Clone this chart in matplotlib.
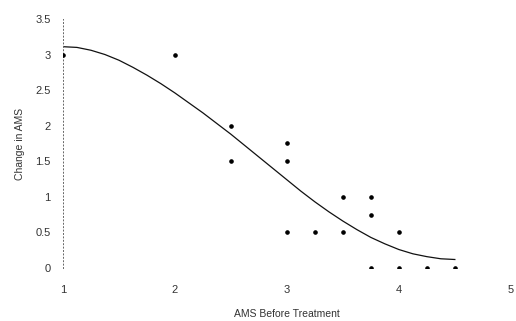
import matplotlib.pyplot as plt

# observed scores
ams_before = [1, 2, 2.5, 2.5, 3, 3, 3, 3.25, 3.5, 3.5, 3.75, 3.75, 3.75, 4, 4, 4.25, 4.5]
ams_change = [3, 3, 2, 1.5, 1.75, 1.5, 0.5, 0.5, 1, 0.5, 1, 0.75, 0, 0.5, 0, 0, 0]

# trend line
trend_x = [1.0, 1.125, 1.25, 1.375, 1.5, 1.625, 1.75, 1.875, 2.0, 2.125, 2.25,
           2.375, 2.5, 2.625, 2.75, 2.875, 3.0, 3.125, 3.25, 3.375, 3.5, 3.625,
           3.75, 3.875, 4.0, 4.125, 4.25, 4.375, 4.5]
trend_y = [3.11, 3.10, 3.06, 3.00, 2.92, 2.82, 2.71, 2.59, 2.46, 2.32, 2.18,
           2.03, 1.88, 1.72, 1.56, 1.40, 1.24, 1.08, 0.93, 0.79, 0.66, 0.54,
           0.43, 0.34, 0.26, 0.20, 0.16, 0.13, 0.12]

x_ticks = [1, 2, 3, 4, 5]
y_ticks = [0, 0.5, 1, 1.5, 2, 2.5, 3, 3.5]
y_labels = ["0", "0.5", "1", "1.5", "2", "2.5", "3", "3.5"]

plt.rcParams["font.family"] = ["Liberation Sans", "DejaVu Sans"]
text_color = "#333333"

fig = plt.figure(figsize=(5.16, 3.21), dpi=100)
ax = fig.add_axes([0.122, 0.165, 0.868, 0.776])

ax.plot(trend_x, trend_y, color="#111111", lw=0.9, zorder=2)
ax.plot(ams_before, ams_change, "o", color="black", ms=2.3, zorder=3)

ax.set_xlim(1, 5)
ax.set_ylim(0, 3.5)
ax.set_xticks(x_ticks)
ax.set_yticks(y_ticks)
ax.set_yticklabels(y_labels)

for side in ["top", "right", "bottom"]:
    ax.spines[side].set_visible(False)
ax.spines["left"].set_linestyle((0, (1, 2.5)))
ax.spines["left"].set_linewidth(0.7)
ax.spines["left"].set_color("#666666")

ax.tick_params(axis="x", length=0, pad=12, labelsize=8, labelcolor=text_color)
ax.tick_params(axis="y", length=0, pad=9, labelsize=8, labelcolor=text_color)

ax.set_xlabel("AMS Before Treatment", fontsize=7.5, color=text_color, labelpad=10)
ax.set_ylabel("Change in AMS", fontsize=7.5, color=text_color, labelpad=7)

fig.savefig("out.png", dpi=100)
